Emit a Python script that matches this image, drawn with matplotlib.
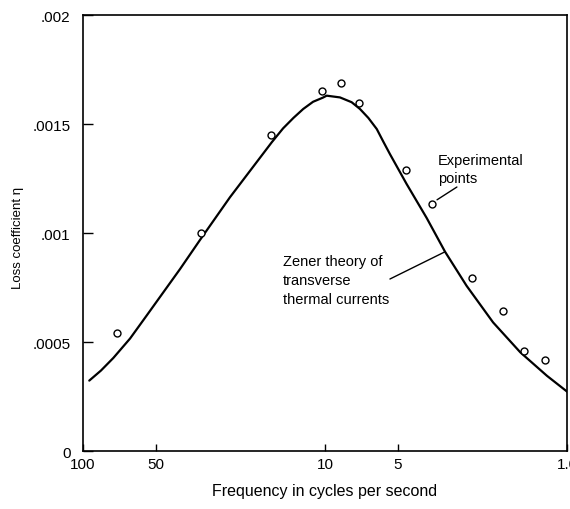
import matplotlib
matplotlib.use("Agg")
import matplotlib.pyplot as plt

plt.rcParams["font.family"] = ["Liberation Sans", "DejaVu Sans"]

# Zener theory curve (frequency in c/s, loss coefficient)
curve_freq = [94.2, 84.3, 74.9, 63.9, 54.6, 39.7, 32.9, 24.7, 16.6, 14.9,
              13.5, 12.3, 11.2, 10.2, 9.84, 8.67, 7.76, 7.17, 6.62, 6.11,
              5.74, 5.39, 4.60, 3.80, 3.19, 2.60, 2.02, 1.56, 1.21, 0.99]
curve_eta = [0.000323, 0.000369, 0.000427, 0.000516, 0.000621, 0.000835,
             0.000967, 0.001164, 0.001416, 0.001480, 0.001528, 0.001569,
             0.001602, 0.001621, 0.001630, 0.001622, 0.001600, 0.001569,
             0.001528, 0.001477, 0.001419, 0.001362, 0.001225, 0.001069,
             0.000914, 0.000758, 0.000590, 0.000453, 0.000345, 0.000269]

# experimental points
exp_freq = [72.6, 32.5, 16.7, 10.3, 8.59, 7.21, 4.63, 3.62, 2.46, 1.84, 1.51, 1.23]
exp_eta = [0.000541, 0.001000, 0.001451, 0.001650, 0.001687, 0.001596,
           0.001290, 0.001132, 0.000792, 0.000641, 0.000460, 0.000417]

x_ticks = [100, 50, 10, 5, 1]
x_ticklabels = ["100", "50", "10", "5", "1.0"]
y_ticks = [0, 0.0005, 0.001, 0.0015, 0.002]
y_ticklabels = ["0", ".0005", ".001", ".0015", ".002"]

fig = plt.figure(figsize=(5.7, 5.1), dpi=100)
ax = fig.add_axes([0.1456, 0.1137, 0.8491, 0.8549])

ax.plot(curve_freq, curve_eta, color="black", lw=1.6,
        solid_capstyle="round", solid_joinstyle="round")
ax.plot(exp_freq, exp_eta, "o", mfc="white", mec="black", ms=5, mew=1.0)

ax.set_xscale("log")
ax.set_xlim(100, 1)
ax.set_ylim(0, 0.002)
ax.set_xticks(x_ticks)
ax.set_xticklabels(x_ticklabels)
ax.minorticks_off()
ax.set_yticks(y_ticks)
ax.set_yticklabels(y_ticklabels)
ax.tick_params(axis="x", direction="in", length=5, width=1, labelsize=11, pad=4)
ax.tick_params(axis="y", direction="in", length=7, width=1, labelsize=11, pad=9)
for s in ax.spines.values():
    s.set_linewidth(1.2)

ax.set_xlabel("Frequency in cycles per second", fontsize=11.5, labelpad=9)
ax.set_ylabel("Loss coefficient \u03b7", fontsize=9.5)
ax.yaxis.set_label_coords(-0.122, 0.49)

# labels with leader lines
ax.text(3.41, 0.001294, "Experimental\npoints", fontsize=10.5,
        ha="left", va="center", linespacing=1.35)
ax.annotate("", xy=(3.56, 0.001142), xytext=(2.85, 0.001211),
            arrowprops=dict(arrowstyle="-", color="black", lw=1,
                            shrinkA=0, shrinkB=3))
ax.text(14.9, 0.000784, "Zener theory of\ntransverse\nthermal currents",
        fontsize=10.5, ha="left", va="center", linespacing=1.45)
ax.annotate("", xy=(3.19, 0.000914), xytext=(5.39, 0.000789),
            arrowprops=dict(arrowstyle="-", color="black", lw=1,
                            shrinkA=0, shrinkB=0))

fig.savefig("out.png", dpi=100)
